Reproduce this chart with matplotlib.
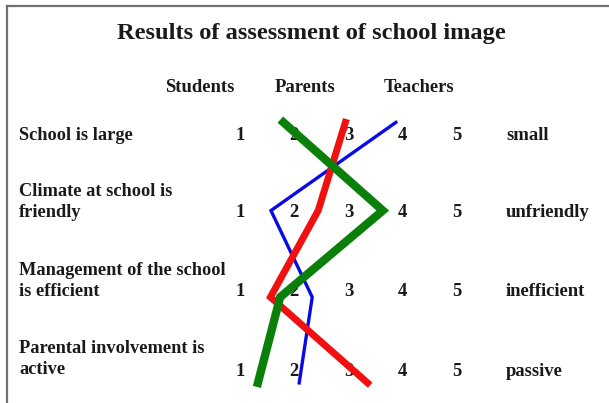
import matplotlib
matplotlib.use("Agg")
import matplotlib.pyplot as plt
from matplotlib.lines import Line2D

TITLE = "Results of assessment of school image"
GROUPS = ["Students", "Parents", "Teachers"]
LEFT_LABELS = ["School is large", "Climate at school is\nfriendly",
               "Management of the school\nis efficient", "Parental involvement is\nactive"]
RIGHT_LABELS = ["small", "unfriendly", "inefficient", "passive"]
SCALE = [1, 2, 3, 4, 5]

# rating at each statement (line ends run a bit past the rows)
LINE_ROWS = [0.84, 1.96, 3.06, 4.15]
BLUE = [3.87, 1.57, 2.33, 2.09]
RED = [2.94, 2.44, 1.56, 3.35]
GREEN = [1.80, 3.63, 1.74, 1.33]

PX_X0, PX_DX = 240.0, 54.3   # pixel of rating 1, pixels per rating step
PX_Y0, PX_DY = 135.0, 78.7   # pixel of row 1, pixels per row
W, H = 609, 403

fig = plt.figure(figsize=(W / 100, H / 100), dpi=100)
ax = fig.add_axes([0, 0, 1, 1])
ax.set_xlim(1 - PX_X0 / PX_DX, 1 + (W - PX_X0) / PX_DX)
ax.set_ylim(1 + (H - PX_Y0) / PX_DY, 1 - PX_Y0 / PX_DY)
ax.axis("off")

font = dict(family="Liberation Serif", weight="bold", color="#1a1a1a")


def px_x(p):
    return 1 + (p - PX_X0) / PX_DX


def px_y(p):
    return 1 + (p - PX_Y0) / PX_DY


ax.text(px_x(311), px_y(33), TITLE, ha="center", va="center", fontsize=17.6, **font)
for g, p in zip(GROUPS, [200, 305, 419]):
    ax.text(px_x(p), px_y(88), g, ha="center", va="center", fontsize=13.4, **font)

label_y = [135, 202, 281, 359]
num_y = [135, 212, 291, 371]
for i, lab in enumerate(LEFT_LABELS):
    ax.text(px_x(19), px_y(label_y[i]), lab, ha="left", va="center", fontsize=13.2,
            linespacing=1.35, **font)
    ax.text(px_x(506), px_y(num_y[i]), RIGHT_LABELS[i], ha="left", va="center",
            fontsize=13.4, **font)
    for s in SCALE:
        ax.text(s, px_y(num_y[i]), str(s), ha="center", va="center", fontsize=13.4, **font)

ax.plot(BLUE, LINE_ROWS, color="#0a0ae6", lw=2.4, solid_joinstyle="miter", zorder=3)
ax.plot(RED, LINE_ROWS, color="#f01010", lw=5.0, solid_joinstyle="miter", zorder=4)
ax.plot(GREEN, LINE_ROWS, color="#0a800a", lw=6.0, solid_joinstyle="miter", zorder=5)

# frame edge at top and left
fig.add_artist(Line2D([7 / W, 1], [1 - 6 / H] * 2, color="#707070", lw=1.6))
fig.add_artist(Line2D([7 / W] * 2, [0, 1 - 6 / H], color="#707070", lw=1.6))

fig.savefig("out.png", dpi=100)
